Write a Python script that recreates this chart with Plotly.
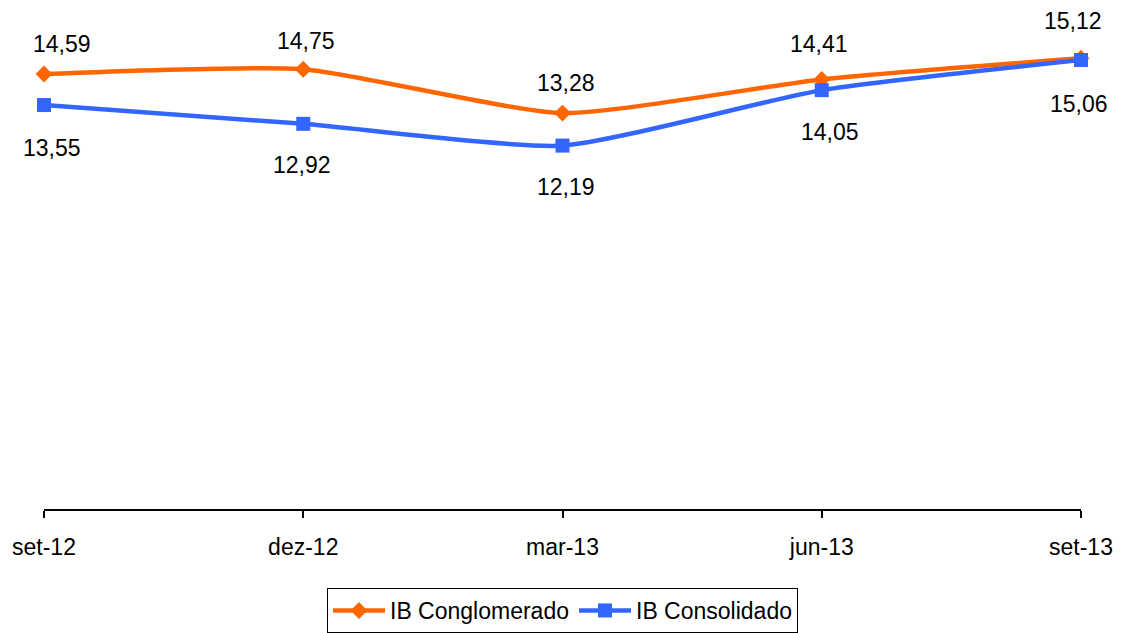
import plotly.graph_objects as go

categories = ["set-12", "dez-12", "mar-13", "jun-13", "set-13"]
conglomerado = [14.59, 14.75, 13.28, 14.41, 15.12]
consolidado = [13.55, 12.92, 12.19, 14.05, 15.06]
label_conglomerado = ["14,59", "14,75", "13,28", "14,41", "15,12"]
label_consolidado = ["13,55", "12,92", "12,19", "14,05", "15,06"]

ORANGE = "#FF6600"
BLUE = "#3366FF"
FONT = "Liberation Sans, Arial, sans-serif"

# label offsets (px) relative to the points
off_c = [(18, 30), (3, 28), (3, 30), (-3, 35), (-8, 37)]
off_s = [(8, -43), (-1, -41), (3, -41), (8, -42), (-2, -44)]

fig = go.Figure()
fig.add_trace(go.Scatter(
    x=categories, y=conglomerado, name="IB Conglomerado",
    mode="lines+markers", cliponaxis=False,
    line=dict(color=ORANGE, width=4.5, shape="spline", smoothing=0.55),
    marker=dict(symbol="diamond", size=13, color=ORANGE),
))
fig.add_trace(go.Scatter(
    x=categories, y=consolidado, name="IB Consolidado",
    mode="lines+markers", cliponaxis=False,
    line=dict(color=BLUE, width=4.5, shape="spline", smoothing=0.55),
    marker=dict(symbol="square", size=14, color=BLUE),
))

annotations = []
for cat, v, t, (dx, dy) in zip(categories, conglomerado, label_conglomerado, off_c):
    annotations.append(dict(x=cat, y=v, xref="x", yref="y", text=t, showarrow=False,
                            xshift=dx, yshift=dy, font=dict(size=23, color="black", family=FONT)))
for cat, v, t, (dx, dy) in zip(categories, consolidado, label_consolidado, off_s):
    annotations.append(dict(x=cat, y=v, xref="x", yref="y", text=t, showarrow=False,
                            xshift=dx, yshift=dy, font=dict(size=23, color="black", family=FONT)))

# page body has an 8px margin, so the figure is shifted by 8px
W, H = 1116, 625
fig.update_layout(
    width=W, height=H,
    margin=dict(l=36, r=43, t=24, b=124),
    paper_bgcolor="white", plot_bgcolor="white",
    font=dict(family=FONT, size=23, color="black"),
    annotations=annotations,
    showlegend=True,
    legend=dict(
        orientation="h", x=0.5, xanchor="center",
        yref="container", y=1 - 580 / H, yanchor="top",
        bordercolor="black", borderwidth=1,
        font=dict(size=23, color="black", family=FONT),
        itemwidth=52, traceorder="normal",
    ),
    xaxis=dict(
        type="category", range=[0, 4], automargin=False,
        showline=True, linecolor="black", linewidth=1.5,
        ticks="outside", ticklen=7, tickcolor="black", tickwidth=1.5,
        ticklabelstandoff=10,
        showgrid=False, zeroline=False,
        tickfont=dict(size=23, color="black", family=FONT),
    ),
    yaxis=dict(range=[0, 16], visible=False, showgrid=False, zeroline=False),
)

fig.write_html("out.html")
